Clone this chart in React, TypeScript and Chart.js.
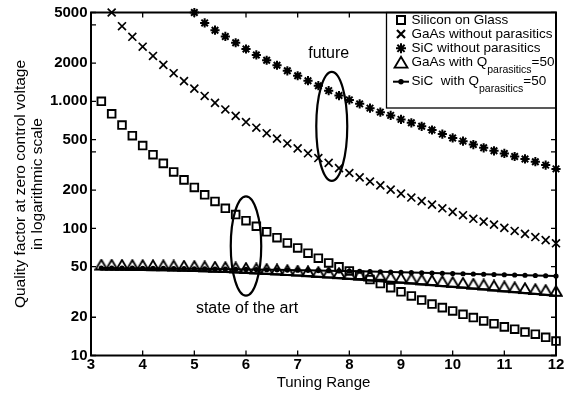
import React, { useEffect, useRef } from 'react';
import { Chart, registerables } from 'chart.js';

Chart.register(...registerables);

const FONT = "'Liberation Sans', Arial, Helvetica, sans-serif";

// ---------- data ----------
const xSteps = [3.2, 3.4, 3.6, 3.8, 4.0, 4.2, 4.4, 4.6, 4.8, 5.0, 5.2, 5.4, 5.6, 5.8, 6.0, 6.2, 6.4, 6.6, 6.8, 7.0, 7.2, 7.4, 7.6, 7.8, 8.0, 8.2, 8.4, 8.6, 8.8, 9.0, 9.2, 9.4, 9.6, 9.8, 10.0, 10.2, 10.4, 10.6, 10.8, 11.0, 11.2, 11.4, 11.6, 11.8, 12.0];
const xGaAs = [3.4, 3.6, 3.8, 4.0, 4.2, 4.4, 4.6, 4.8, 5.0, 5.2, 5.4, 5.6, 5.8, 6.0, 6.2, 6.4, 6.6, 6.8, 7.0, 7.2, 7.4, 7.6, 7.8, 8.0, 8.2, 8.4, 8.6, 8.8, 9.0, 9.2, 9.4, 9.6, 9.8, 10.0, 10.2, 10.4, 10.6, 10.8, 11.0, 11.2, 11.4, 11.6, 11.8, 12.0];
const xSiC = [5.0, 5.2, 5.4, 5.6, 5.8, 6.0, 6.2, 6.4, 6.6, 6.8, 7.0, 7.2, 7.4, 7.6, 7.8, 8.0, 8.2, 8.4, 8.6, 8.8, 9.0, 9.2, 9.4, 9.6, 9.8, 10.0, 10.2, 10.4, 10.6, 10.8, 11.0, 11.2, 11.4, 11.6, 11.8, 12.0];

const siliconOnGlass = [1000, 798, 651, 537, 449, 380, 325, 278, 241, 210, 184, 163, 144, 128.5, 115, 104, 94, 84.5, 76.8, 70.2, 63.8, 58.3, 53.5, 49.8, 46.3, 42.8, 39.6, 36.8, 34.2, 31.7, 29.4, 27.3, 25.4, 23.8, 22.4, 21.1, 19.9, 18.7, 17.8, 16.8, 16.1, 15.3, 14.7, 13.9, 13.0];
const gaasNoParasitics = [5000, 3900, 3220, 2690, 2276, 1936, 1665, 1443, 1259, 1102, 972, 863, 769, 687, 620, 561, 509, 466, 426, 390, 358, 328, 298, 273, 252, 234, 218, 202, 188, 175, 164, 154, 144, 135, 127, 119, 113, 107, 101, 95.5, 90.5, 85.5, 80.8, 76.4];
const sicNoParasitics = [5000, 4140, 3630, 3240, 2890, 2580, 2317, 2104, 1923, 1738, 1589, 1453, 1328, 1214, 1110, 1026, 955, 884, 822, 775, 721, 678, 636, 595, 552, 515, 486, 457, 431, 408, 389, 368, 352, 335, 315, 294];
const gaasQ50 = [47.5, 47.4, 47.3, 47.2, 47.1, 47.0, 46.9, 46.7, 46.5, 46.3, 46.0, 45.7, 45.4, 45.1, 44.7, 44.3, 43.9, 43.5, 43.0, 42.6, 42.1, 41.6, 41.1, 40.6, 40.1, 39.6, 39.0, 38.5, 38.0, 37.4, 36.9, 36.3, 35.8, 35.2, 34.7, 34.2, 33.6, 33.1, 32.5, 32.0, 31.5, 31.0, 30.5, 30.0, 29.5];
const sicQ50 = [48.8, 48.8, 48.7, 48.7, 48.6, 48.5, 48.4, 48.3, 48.2, 48.1, 48.0, 47.9, 47.8, 47.7, 47.6, 47.5, 47.3, 47.2, 47.0, 46.9, 46.8, 46.6, 46.5, 46.3, 46.2, 46.0, 45.8, 45.6, 45.4, 45.2, 45.0, 44.8, 44.6, 44.4, 44.2, 44.0, 43.8, 43.6, 43.4, 43.2, 43.0, 42.8, 42.6, 42.4, 42.2];

const xTickValues = [3, 4, 5, 6, 7, 8, 9, 10, 11, 12];
const yTickValues = [10, 20, 50, 100, 200, 400, 500, 1000, 2000, 4000, 5000];
const yTickLabels = ['10', '20', '50', '100', '200', '', '500', '1.000', '2000', '', '5000'];

const xTitle = 'Tuning Range';
const yTitleLines = ['Quality factor at zero control voltage', 'in logarithmic scale'];

const legendMain = ['Silicon on Glass', 'GaAs without parasitics', 'SiC without parasitics', 'GaAs with Q', 'SiC  with Q'];
const legendSub = ['', '', '', 'parasitics', 'parasitics'];
const legendSuffix = ['', '', '', '=50', '=50'];
const legendMarkers = ['square', 'cross', 'star', 'triangle', 'lineDot'];

// annotations in data space
const notes = [
  { text: 'future', x: 7.6, y: 2372 },
  { text: 'state of the art', x: 6.02, y: 23.3 },
];
const ellipses = [
  { x: 7.66, halfWidth: 0.30, yTop: 1708, yBottom: 237 },
  { x: 6.0, halfWidth: 0.295, yTop: 179, yBottom: 29.6 },
];

const pts = (xs: number[], ys: number[]) => xs.map((x, i) => ({ x, y: ys[i] }));

function makeTriangleImage(): HTMLCanvasElement {
  const c = document.createElement('canvas');
  c.width = 14;
  c.height = 22;
  const g = c.getContext('2d')!;
  g.strokeStyle = '#000';
  g.lineWidth = 1.9;
  g.lineJoin = 'miter';
  g.beginPath();
  g.moveTo(7, 1.3);
  g.lineTo(12.8, 11);
  g.lineTo(1.2, 11);
  g.closePath();
  g.stroke();
  return c;
}

function drawLegendMarker(ctx: CanvasRenderingContext2D, kind: string, x: number, y: number) {
  ctx.save();
  ctx.strokeStyle = '#000';
  ctx.fillStyle = '#000';
  ctx.beginPath();
  if (kind === 'square') {
    ctx.lineWidth = 2;
    ctx.rect(x - 4, y - 4, 8, 8);
    ctx.stroke();
  } else if (kind === 'cross') {
    ctx.lineWidth = 2.2;
    ctx.moveTo(x - 4, y - 4); ctx.lineTo(x + 4, y + 4);
    ctx.moveTo(x + 4, y - 4); ctx.lineTo(x - 4, y + 4);
    ctx.stroke();
  } else if (kind === 'star') {
    ctx.lineWidth = 2;
    ctx.moveTo(x - 5, y); ctx.lineTo(x + 5, y);
    ctx.moveTo(x, y - 5); ctx.lineTo(x, y + 5);
    ctx.moveTo(x - 3.6, y - 3.6); ctx.lineTo(x + 3.6, y + 3.6);
    ctx.moveTo(x + 3.6, y - 3.6); ctx.lineTo(x - 3.6, y + 3.6);
    ctx.stroke();
  } else if (kind === 'triangle') {
    ctx.lineWidth = 1.8;
    ctx.moveTo(x, y - 6);
    ctx.lineTo(x + 6.5, y + 5);
    ctx.lineTo(x - 6.5, y + 5);
    ctx.closePath();
    ctx.stroke();
  } else if (kind === 'lineDot') {
    ctx.lineWidth = 2;
    ctx.moveTo(x - 8, y); ctx.lineTo(x + 8, y);
    ctx.stroke();
    ctx.beginPath();
    ctx.arc(x, y, 2.7, 0, Math.PI * 2);
    ctx.fill();
  }
  ctx.restore();
}

const decorPlugin = {
  id: 'decor',
  afterDatasetsDraw(chart: any) {
    const { ctx, chartArea: a, scales } = chart;
    const xs = scales.x;
    const ys = scales.y;
    ctx.save();

    // ellipses
    ctx.strokeStyle = '#000';
    ctx.lineWidth = 2.2;
    for (const e of ellipses) {
      const cx = xs.getPixelForValue(e.x);
      const rx = xs.getPixelForValue(e.x + e.halfWidth) - cx;
      const top = ys.getPixelForValue(e.yTop);
      const bot = ys.getPixelForValue(e.yBottom);
      ctx.beginPath();
      ctx.ellipse(cx, (top + bot) / 2, rx, (bot - top) / 2, 0, 0, Math.PI * 2);
      ctx.stroke();
    }

    // notes
    ctx.fillStyle = '#000';
    ctx.font = `16px ${FONT}`;
    ctx.textAlign = 'center';
    ctx.textBaseline = 'middle';
    for (const n of notes) {
      ctx.fillText(n.text, xs.getPixelForValue(n.x), ys.getPixelForValue(n.y));
    }

    // inward ticks
    ctx.lineWidth = 1.3;
    ctx.beginPath();
    for (const v of yTickValues) {
      const py = ys.getPixelForValue(v);
      ctx.moveTo(a.left, py); ctx.lineTo(a.left + 5, py);
      ctx.moveTo(a.right, py); ctx.lineTo(a.right - 5, py);
    }
    for (const v of xTickValues) {
      const px = xs.getPixelForValue(v);
      ctx.moveTo(px, a.bottom); ctx.lineTo(px, a.bottom - 5);
      ctx.moveTo(px, a.top); ctx.lineTo(px, a.top + 5);
    }
    ctx.stroke();

    // y-axis title (two lines)
    ctx.font = `15.5px ${FONT}`;
    const cy = (a.top + a.bottom) / 2;
    const lineX = [21, 38];
    yTitleLines.forEach((t, i) => {
      ctx.save();
      ctx.translate(lineX[i], cy);
      ctx.rotate(-Math.PI / 2);
      ctx.textAlign = 'center';
      ctx.textBaseline = 'middle';
      ctx.fillText(t, 0, 0);
      ctx.restore();
    });

    // legend box
    const lx = 386.5;
    const lb = 108;
    ctx.fillStyle = '#fff';
    ctx.fillRect(lx, a.top, a.right - lx, lb - a.top);

    // plot border
    ctx.strokeStyle = '#000';
    ctx.lineWidth = 2;
    ctx.strokeRect(a.left, a.top, a.right - a.left, a.bottom - a.top);

    ctx.lineWidth = 1.3;
    ctx.strokeRect(lx, a.top, a.right - lx, lb - a.top);

    const rowY = [20, 34, 48.3, 62.7, 81.7];
    const mx = 401;
    const tx = 411.5;
    ctx.fillStyle = '#000';
    ctx.textAlign = 'left';
    ctx.textBaseline = 'middle';
    for (let i = 0; i < legendMain.length; i++) {
      const y = rowY[i];
      drawLegendMarker(ctx, legendMarkers[i], mx, y);
      ctx.font = `13.5px ${FONT}`;
      ctx.fillText(legendMain[i], tx, y);
      let cur = tx + ctx.measureText(legendMain[i]).width;
      if (legendSub[i]) {
        ctx.font = `10.5px ${FONT}`;
        ctx.fillText(legendSub[i], cur, y + 7);
        cur += ctx.measureText(legendSub[i]).width;
        ctx.font = `13.5px ${FONT}`;
        ctx.fillText(legendSuffix[i], cur, y);
      }
    }
    ctx.restore();
  },
};

export default function App() {
  const ref = useRef<HTMLCanvasElement | null>(null);

  useEffect(() => {
    if (!ref.current) return;
    const tri = makeTriangleImage();
    const chart = new Chart(ref.current, {
      type: 'scatter',
      data: {
        datasets: [
          {
            label: 'Silicon on Glass',
            data: pts(xSteps, siliconOnGlass),
            showLine: false,
            pointStyle: 'rect',
            pointRadius: 5.4,
            pointBorderWidth: 1.9,
            pointBorderColor: '#000',
            pointBackgroundColor: 'rgba(0,0,0,0)',
            clip: false as any,
          },
          {
            label: 'GaAs without parasitics',
            data: pts(xGaAs, gaasNoParasitics),
            showLine: false,
            pointStyle: 'crossRot',
            pointRadius: 5.6,
            pointBorderWidth: 1.7,
            pointBorderColor: '#000',
            clip: false as any,
          },
          {
            label: 'SiC without parasitics',
            data: pts(xSiC, sicNoParasitics),
            showLine: false,
            pointStyle: 'star',
            pointRadius: 4.6,
            pointBorderWidth: 2,
            pointBorderColor: '#000',
            clip: false as any,
          },
          {
            label: 'GaAs with Q parasitics =50',
            data: pts(xSteps, gaasQ50),
            showLine: true,
            borderColor: '#000',
            borderWidth: 2.2,
            pointStyle: tri as any,
            pointRadius: 5,
            clip: false as any,
          },
          {
            label: 'SiC with Q parasitics =50',
            data: pts(xSteps, sicQ50),
            showLine: true,
            borderColor: '#000',
            borderWidth: 2,
            pointStyle: 'circle',
            pointRadius: 2.6,
            pointBorderWidth: 0,
            pointBackgroundColor: '#000',
            clip: false as any,
          },
        ],
      },
      options: {
        animation: false,
        responsive: false,
        devicePixelRatio: 1,
        layout: { padding: { top: 9.5, right: 14, left: 0, bottom: 0 } },
        plugins: { legend: { display: false }, tooltip: { enabled: false } },
        events: [],
        scales: {
          x: {
            type: 'linear',
            min: 3,
            max: 12,
            afterBuildTicks: (s: any) => {
              s.ticks = xTickValues.map((v) => ({ value: v }));
            },
            afterFit: (s: any) => {
              s.height = 38.5;
            },
            grid: { display: false, drawTicks: false },
            border: { display: false },
            ticks: {
              autoSkip: false,
              maxRotation: 0,
              padding: 0,
              color: '#000',
              font: { family: FONT, size: 15, weight: 'bold' },
              callback: (v: any) => String(v),
            },
            title: {
              display: true,
              text: xTitle,
              color: '#000',
              font: { family: FONT, size: 15 },
              padding: { top: 0, bottom: 2 },
            },
          },
          y: {
            type: 'logarithmic',
            min: 10,
            max: 5000,
            afterBuildTicks: (s: any) => {
              s.ticks = yTickValues.map((v) => ({ value: v }));
            },
            afterFit: (s: any) => {
              s.width = 91;
            },
            grid: { display: false, drawTicks: false },
            border: { display: false },
            ticks: {
              autoSkip: false,
              padding: 3.5,
              color: '#000',
              font: { family: FONT, size: 15, weight: 'bold' },
              callback: (v: any) => {
                const i = yTickValues.indexOf(Number(v));
                return i >= 0 ? yTickLabels[i] : '';
              },
            },
          },
        },
      } as any,
      plugins: [decorPlugin],
    });
    return () => chart.destroy();
  }, []);

  return (
    <div style={{ position: 'absolute', left: 0, top: 0, width: 570, height: 394, background: '#fff' }}>
      <canvas ref={ref} width={570} height={394} style={{ display: 'block' }} />
    </div>
  );
}
